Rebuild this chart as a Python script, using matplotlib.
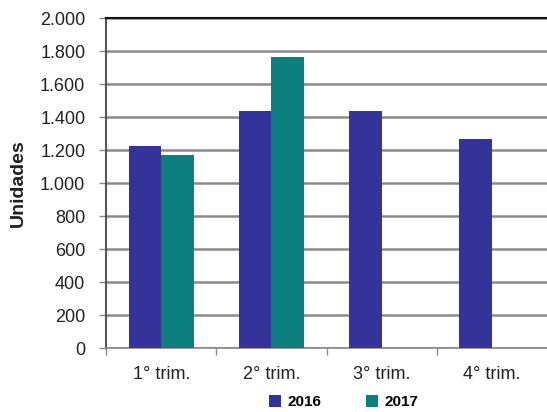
import matplotlib
matplotlib.use("Agg")
import matplotlib.pyplot as plt
import numpy as np
from matplotlib.ticker import FuncFormatter, FixedLocator

plt.rcParams['font.family'] = ['Liberation Sans', 'DejaVu Sans']

categories = ["1° trim.", "2° trim.", "3° trim.", "4° trim."]
series_names = ["2016", "2017"]
values_2016 = [1225, 1437, 1437, 1267]
values_2017 = [1170, 1764, np.nan, np.nan]
colors = ["#333399", "#0E7F7F"]

fig = plt.figure(figsize=(5.47, 4.12), dpi=100)
ax = fig.add_axes([0.194, 0.155, 0.806, 0.801])

x = np.arange(len(categories))
w = 0.295
ax.bar(x - w/2, values_2016, w, color=colors[0], label=series_names[0], zorder=3)
ax.bar(x + w/2, values_2017, w, color=colors[1], label=series_names[1], zorder=3)

ax.set_ylim(0, 2000)
ax.set_xlim(-0.5, 3.5)
ax.set_yticks(np.arange(0, 2001, 200))
ax.yaxis.set_major_formatter(FuncFormatter(lambda v, p: f"{int(v):,}".replace(",", ".")))
ax.grid(axis='y', color='#8a8a8a', linewidth=1.8, zorder=0)
ax.set_axisbelow(True)

ax.set_xticks(x)
ax.set_xticklabels(categories, fontsize=13, color='#222222')
ax.xaxis.set_minor_locator(FixedLocator([-0.5, 0.5, 1.5, 2.5]))
ax.tick_params(axis='x', which='major', length=0, pad=13)
ax.tick_params(axis='x', which='minor', length=5, color='#888888', width=1)
ax.tick_params(axis='y', length=5, color='#888888', width=1, labelsize=13, labelcolor='#222222', pad=10)

ax.spines['right'].set_visible(False)
ax.spines['top'].set_color('#111111')
ax.spines['top'].set_linewidth(1.5)
ax.spines['left'].set_color('#555555')
ax.spines['left'].set_linewidth(1.5)
ax.spines['bottom'].set_color('#888888')
ax.spines['bottom'].set_linewidth(1.2)

ax.set_ylabel("Unidades", fontsize=14, fontweight='bold', color='#222222')
ax.yaxis.set_label_coords(-0.179, 0.5)

leg = fig.legend(loc='center', bbox_to_anchor=(0.628, 0.024), ncol=2, frameon=False,
                 prop={'weight': 'bold', 'size': 11}, handlelength=0.8, handleheight=0.8,
                 handletextpad=0.4, columnspacing=2.9)

fig.savefig("out.png", dpi=100)
